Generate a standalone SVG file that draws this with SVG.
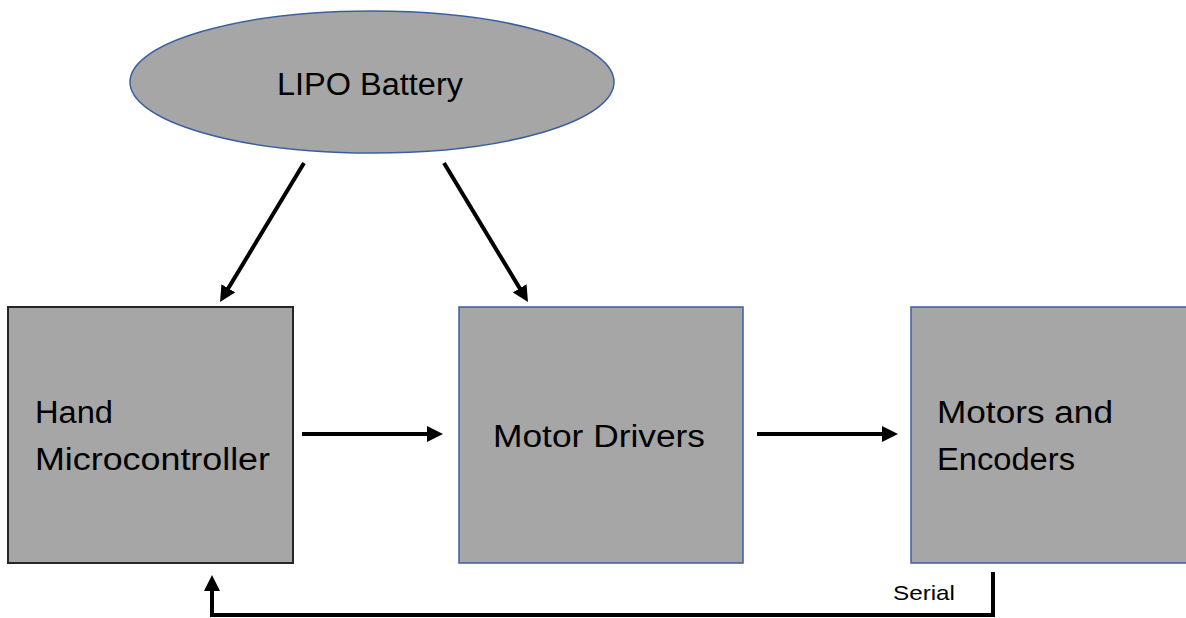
<svg xmlns="http://www.w3.org/2000/svg" width="1186" height="618" viewBox="0 0 1186 618">
<style>
.box{fill:#a6a6a6;}
.blue{stroke:#3a5f9f;stroke-width:1.5;}
.dark{stroke:#262626;stroke-width:2;}
.lbl{font-family:"Liberation Sans",Arial,sans-serif;font-size:31px;fill:#000;}
.small{font-family:"Liberation Sans",Arial,sans-serif;font-size:21px;fill:#000;}
.conn{fill:none;stroke:#000;stroke-width:4;marker-end:url(#ah);}
</style>
<defs>
<marker id="ah" markerUnits="userSpaceOnUse" viewBox="0 0 16 16" markerWidth="16" markerHeight="16" refX="6" refY="8" orient="auto">
<path d="M0,0 L16,8 L0,16 z" fill="#000"/>
</marker>
</defs>
<rect width="1186" height="618" fill="#fff"/>
<g id="battery">
<ellipse class="box blue" cx="372" cy="82" rx="242" ry="71"/>
<text class="lbl" x="277" y="95" textLength="186" lengthAdjust="spacingAndGlyphs">LIPO Battery</text>
</g>
<g id="hand">
<rect class="box dark" x="8" y="307" width="285" height="256"/>
<text class="lbl" x="35" y="423" textLength="78" lengthAdjust="spacingAndGlyphs">Hand</text>
<text class="lbl" x="35" y="470" textLength="235" lengthAdjust="spacingAndGlyphs">Microcontroller</text>
</g>
<g id="drivers">
<rect class="box blue" x="459" y="307" width="284" height="256"/>
<text class="lbl" x="493" y="447" textLength="212" lengthAdjust="spacingAndGlyphs">Motor Drivers</text>
</g>
<g id="motors">
<rect class="box blue" x="911" y="307" width="290" height="256"/>
<text class="lbl" x="937" y="423" textLength="176" lengthAdjust="spacingAndGlyphs">Motors and</text>
<text class="lbl" x="937" y="470" textLength="138" lengthAdjust="spacingAndGlyphs">Encoders</text>
</g>
<g id="connectors">
<line class="conn" x1="304" y1="163" x2="225.2" y2="293.4"/>
<line class="conn" x1="444" y1="163" x2="522.8" y2="293.4"/>
<line class="conn" x1="302" y1="434" x2="433" y2="434"/>
<line class="conn" x1="757" y1="434" x2="888" y2="434"/>
<path class="conn" d="M993,572 V615 H212 V585"/>
<text class="small" x="893" y="600" textLength="62" lengthAdjust="spacingAndGlyphs">Serial</text>
</g>
</svg>
